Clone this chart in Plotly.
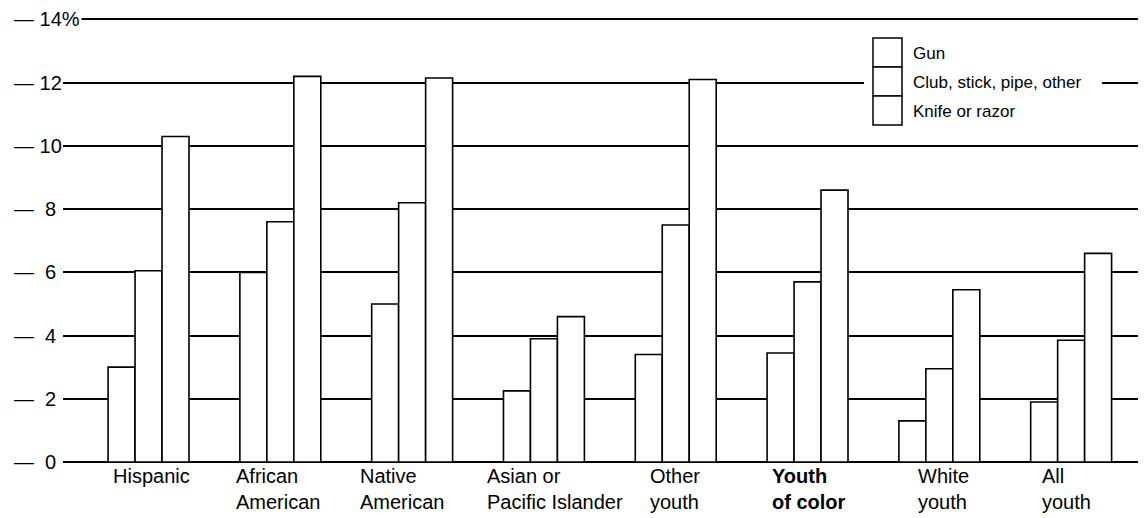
import plotly.graph_objects as go

# --- data ---
groups = ["Hispanic", "African<br>American", "Native<br>American",
          "Asian or<br>Pacific Islander", "Other<br>youth",
          "<b>Youth<br>of color</b>", "White<br>youth", "All<br>youth"]
series = ["Gun", "Club, stick, pipe, other", "Knife or razor"]
gun = [3.0, 6.0, 5.0, 2.25, 3.4, 3.45, 1.3, 1.9]
club = [6.05, 7.6, 8.2, 3.9, 7.5, 5.7, 2.95, 3.85]
knife = [10.3, 12.2, 12.15, 4.6, 12.1, 8.6, 5.45, 6.6]
ytick_vals = [0, 2, 4, 6, 8, 10, 12, 14]
ytick_text = ["—  0", "—  2", "—  4", "—  6", "—  8", "— 10", "— 12", "— 14%"]

# page body has an 8px margin, so the figure is 8px smaller each way
OFF = 8
W, H = 1146 - OFF, 518 - OFF
ML, MR, MT, MB = 63 - OFF, 0, 2, 56
PW, PH = W - ML - MR, H - MT - MB
FONT = "Liberation Sans, Arial, Helvetica, sans-serif"

def px(x):
    # x in page pixels -> paper coordinate
    return (x - OFF - ML) / PW

def py(y):
    # y in page pixels -> paper coordinate
    return (H - MB - (y - OFF)) / PH

fig = go.Figure()
for name, vals in zip(series, [gun, club, knife]):
    fig.add_trace(go.Bar(
        x=list(range(len(groups))), y=vals, name=name,
        marker=dict(color="white", line=dict(color="black", width=1.6)),
        showlegend=False,
    ))

# y tick labels with the leading dash, starting at the left edge
for v, t in zip(ytick_vals, ytick_text):
    fig.add_annotation(
        x=px(12), xref="paper", y=v, yref="y", xanchor="left", yanchor="middle",
        text=t, showarrow=False, bgcolor="white" if v == 14 else None,
        font=dict(family=FONT, size=20, color="black"),
    )

# category labels, left aligned under each group
label_shift = [-38, -46, -54, -59, -28, -38, -23, -31]
for i, (g, s) in enumerate(zip(groups, label_shift)):
    fig.add_annotation(
        x=i, xref="x", y=0, yref="paper", yanchor="top", xanchor="left",
        xshift=s, yshift=-1, text=g, align="left", showarrow=False,
        font=dict(family=FONT, size=20, color="black"),
    )

# hand-drawn style legend: stacked boxes, white background over gridlines
shapes = [dict(type="rect", xref="paper", yref="paper",
               x0=px(864), x1=px(1102), y0=py(127), y1=py(30),
               fillcolor="white", line=dict(width=0), layer="above")]
box_top = 38
box_h = 29
for k, name in enumerate(series):
    y0 = box_top + k * box_h
    shapes.append(dict(type="rect", xref="paper", yref="paper",
                       x0=px(873), x1=px(902), y0=py(y0 + box_h), y1=py(y0),
                       fillcolor="white", line=dict(color="black", width=1.5),
                       layer="above"))
    fig.add_annotation(
        x=px(911), y=py(y0 + box_h / 2 + 1), xref="paper", yref="paper",
        xanchor="left", yanchor="middle", text=name, showarrow=False,
        font=dict(family=FONT, size=17, color="black"),
    )

fig.update_layout(
    width=W, height=H,
    margin=dict(l=ML, r=MR, t=MT, b=MB, autoexpand=False),
    paper_bgcolor="white", plot_bgcolor="white",
    barmode="group", bargap=0.386, bargroupgap=0,
    shapes=shapes,
    font=dict(family=FONT, size=19, color="black"),
)
fig.update_xaxes(
    range=[-0.649, 7.568], showticklabels=False, showgrid=False,
    showline=False, zeroline=False, fixedrange=True, automargin=False,
)
fig.update_yaxes(
    range=[0, 14.3], tickvals=ytick_vals, showticklabels=False,
    showgrid=True, gridcolor="black", gridwidth=1.5,
    zeroline=True, zerolinecolor="black", zerolinewidth=1.8,
    showline=False, ticks="", automargin=False,
)

fig.write_html("out.html")
